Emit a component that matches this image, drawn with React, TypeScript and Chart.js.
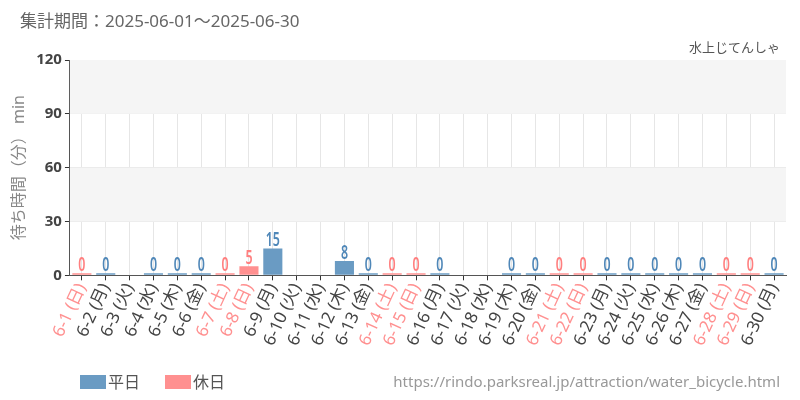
import { useEffect, useRef } from "react";
import { Chart, registerables } from "chart.js";

Chart.register(...registerables);

const days = [
  "6-1 (日)", "6-2 (月)", "6-3 (火)", "6-4 (水)", "6-5 (木)", "6-6 (金)", "6-7 (土)",
  "6-8 (日)", "6-9 (月)", "6-10 (火)", "6-11 (水)", "6-12 (木)", "6-13 (金)", "6-14 (土)",
  "6-15 (日)", "6-16 (月)", "6-17 (火)", "6-18 (水)", "6-19 (木)", "6-20 (金)", "6-21 (土)",
  "6-22 (日)", "6-23 (月)", "6-24 (火)", "6-25 (水)", "6-26 (木)", "6-27 (金)", "6-28 (土)",
  "6-29 (日)", "6-30 (月)",
];
const holiday = [
  true, false, false, false, false, false, true,
  true, false, false, false, false, false, true,
  true, false, false, false, false, false, true,
  true, false, false, false, false, false, true,
  true, false,
];
const waits: (number | null)[] = [
  0, 0, null, 0, 0, 0, 0,
  5, 15, null, null, 8, 0, 0,
  0, 0, null, null, 0, 0, 0,
  0, 0, 0, 0, 0, 0, 0,
  0, 0,
];
const yTicks = [0, 30, 60, 90, 120];

const BLUE = "#6a9bc3";
const PINK = "#ff9090";
const BLUE_TEXT = "#4f87b8";
const PINK_TEXT = "#ff7f7f";
const FONT = "'Noto Sans', 'Noto Sans CJK JP', sans-serif";

const weekdayData = waits.map((v, i) => (holiday[i] ? null : v));
const holidayData = waits.map((v, i) => (holiday[i] ? v : null));

const bandsPlugin = {
  id: "bands",
  beforeDatasetsDraw(chart: any) {
    const { ctx, chartArea, scales } = chart;
    const y = scales.y;
    ctx.save();
    ctx.fillStyle = "#f5f5f5";
    for (let i = 1; i < yTicks.length - 1; i += 2) {
      const top = y.getPixelForValue(yTicks[i + 1]);
      const bottom = y.getPixelForValue(yTicks[i]);
      ctx.fillRect(chartArea.left, top, chartArea.right - chartArea.left, bottom - top);
    }
    ctx.restore();
  },
};

// value labels above bars, squeezed horizontally to look condensed
const labelsPlugin = {
  id: "valueLabels",
  afterDatasetsDraw(chart: any) {
    const { ctx } = chart;
    chart.data.datasets.forEach((ds: any, di: number) => {
      const meta = chart.getDatasetMeta(di);
      meta.data.forEach((bar: any, i: number) => {
        const v = ds.data[i];
        if (v === null || v === undefined) return;
        ctx.save();
        ctx.translate(bar.x, bar.y - 2);
        ctx.scale(0.62, 1);
        ctx.font = `600 20px ${FONT}`;
        ctx.textAlign = "center";
        ctx.textBaseline = "bottom";
        ctx.fillStyle = di === 0 ? BLUE_TEXT : PINK_TEXT;
        ctx.fillText(String(v), 0, 4);
        ctx.restore();
      });
    });
  },
};

const textPlugin = {
  id: "texts",
  afterDraw(chart: any) {
    const { ctx, width } = chart;
    ctx.save();
    ctx.textBaseline = "middle";
    ctx.fillStyle = "#666";
    ctx.font = `17px ${FONT}`;
    ctx.textAlign = "left";
    ctx.fillText("集計期間：2025-06-01～2025-06-30", 20, 22);
    ctx.font = `13px ${FONT}`;
    ctx.fillStyle = "#555";
    ctx.textAlign = "right";
    ctx.fillText("水上じてんしゃ", width - 20, 48);
    ctx.font = `15px ${FONT}`;
    ctx.fillStyle = "#999";
    ctx.fillText("https://rindo.parksreal.jp/attraction/water_bicycle.html", width - 20, 383);

    // legend
    let x = 80;
    ctx.textAlign = "left";
    ctx.font = `16px ${FONT}`;
    chart.data.datasets.forEach((ds: any) => {
      ctx.fillStyle = ds.backgroundColor;
      ctx.fillRect(x, 375, 26, 14);
      ctx.fillStyle = "#555";
      ctx.fillText(ds.label, x + 28, 383);
      x += 85;
    });
    ctx.restore();
  },
};

export default function App() {
  const canvasRef = useRef<HTMLCanvasElement>(null);
  const chartRef = useRef<Chart | null>(null);

  useEffect(() => {
    document.body.style.margin = "0";
    if (!canvasRef.current) return;
    if (chartRef.current) chartRef.current.destroy();
    const ctx = canvasRef.current.getContext("2d");
    if (!ctx) return;

    chartRef.current = new Chart(ctx, {
      type: "bar",
      data: {
        labels: days,
        datasets: [
          {
            label: "平日",
            data: weekdayData,
            backgroundColor: BLUE,
            grouped: false,
            barPercentage: 0.8,
            categoryPercentage: 1,
            minBarLength: 2,
          },
          {
            label: "休日",
            data: holidayData,
            backgroundColor: PINK,
            grouped: false,
            barPercentage: 0.8,
            categoryPercentage: 1,
            minBarLength: 2,
          },
        ],
      },
      options: {
        animation: false,
        responsive: true,
        maintainAspectRatio: false,
        layout: { padding: { top: 60, left: 6, right: 14, bottom: 51 } },
        plugins: {
          legend: { display: false },
          tooltip: { enabled: false },
        },
        scales: {
          x: {
            offset: true,
            grid: {
              offset: false,
              color: "#e6e6e6",
              tickColor: "#333",
              tickLength: 5,
            },
            border: { color: "#555" },
            ticks: {
              autoSkip: false,
              minRotation: 65,
              maxRotation: 65,
              padding: 0,
              font: { family: FONT, size: 17 },
              color: (c: any) => (holiday[c.index] ? PINK : "#444"),
            },
          },
          y: {
            min: 0,
            max: 120,
            afterBuildTicks: (axis: any) => {
              axis.ticks = yTicks.map((v) => ({ value: v }));
            },
            grid: { color: "#e6e6e6", tickColor: "#333", tickLength: 5 },
            border: { color: "#555" },
            ticks: {
              color: "#444",
              padding: 3,
              font: { family: FONT, size: 15, weight: "bold" },
            },
            title: {
              display: true,
              text: "待ち時間（分） min",
              color: "#888",
              padding: 4,
              font: { family: FONT, size: 16 },
            },
          },
        },
      },
      plugins: [bandsPlugin, labelsPlugin, textPlugin],
    });

    return () => {
      if (chartRef.current) {
        chartRef.current.destroy();
        chartRef.current = null;
      }
    };
  }, []);

  return (
    <div style={{ width: 800, height: 400, position: "relative" }}>
      <canvas ref={canvasRef}></canvas>
    </div>
  );
}
